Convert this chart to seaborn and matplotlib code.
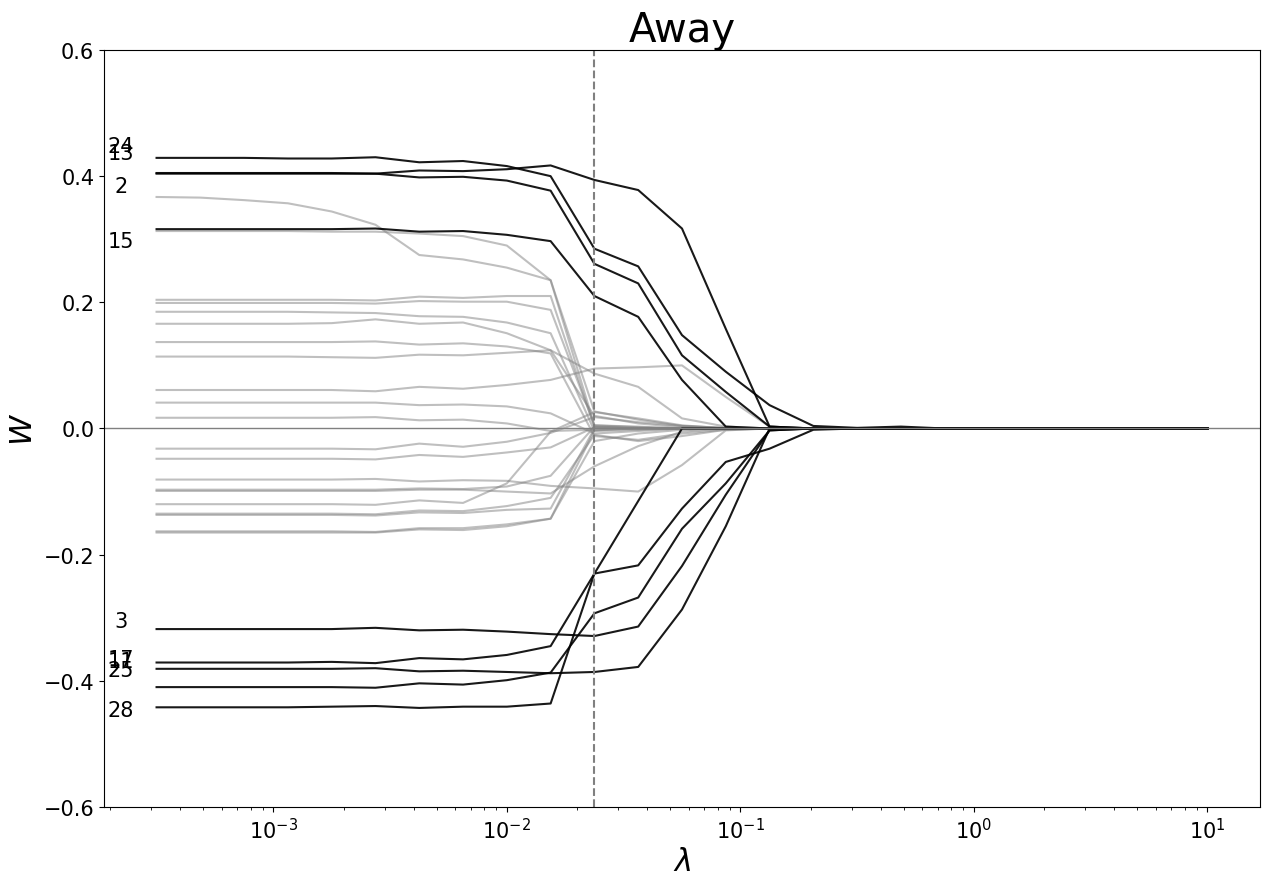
import numpy as np
import pandas as pd
import matplotlib
matplotlib.use("Agg")
import matplotlib.pyplot as plt
import seaborn as sns

# regularisation grid (25 log-spaced lambdas) and chosen lambda index
lambdas = np.logspace(-3.5, 1, 25)
best_idx = 10

# selected features (drawn black)
coef_24 = [0.429, 0.429, 0.429, 0.428, 0.428, 0.430, 0.422, 0.424, 0.416, 0.400, 0.285, 0.257, 0.148,
           0.090, 0.037, 0.004, 0.001, 0.003, 0.0, 0.0, 0.0, 0.0, 0.0, 0.0, 0.0]
coef_13 = [0.405, 0.405, 0.405, 0.405, 0.405, 0.404, 0.409, 0.408, 0.411, 0.417, 0.394, 0.378, 0.317,
           0.158, 0.003, 0.0, 0.0, 0.0, 0.0, 0.0, 0.0, 0.0, 0.0, 0.0, 0.0]
coef_02 = [0.404, 0.404, 0.404, 0.404, 0.404, 0.404, 0.398, 0.399, 0.393, 0.377, 0.261, 0.230, 0.116,
           0.058, 0.003, 0.0, 0.0, 0.0, 0.0, 0.0, 0.0, 0.0, 0.0, 0.0, 0.0]
coef_15 = [0.316, 0.316, 0.316, 0.316, 0.316, 0.317, 0.312, 0.313, 0.307, 0.297, 0.210, 0.177, 0.077,
           0.003, 0.0, 0.0, 0.0, 0.0, 0.0, 0.0, 0.0, 0.0, 0.0, 0.0, 0.0]
coef_03 = [-0.318, -0.318, -0.318, -0.318, -0.318, -0.316, -0.320, -0.319, -0.322, -0.326, -0.329, -0.314,
           -0.218, -0.105, -0.003, 0.0, 0.0, 0.0, 0.0, 0.0, 0.0, 0.0, 0.0, 0.0, 0.0]
coef_17 = [-0.371, -0.371, -0.371, -0.371, -0.370, -0.372, -0.364, -0.366, -0.359, -0.345, -0.230, -0.115,
           0.0, 0.0, 0.0, 0.0, 0.0, 0.0, 0.0, 0.0, 0.0, 0.0, 0.0, 0.0, 0.0]
coef_25 = [-0.381, -0.381, -0.381, -0.381, -0.381, -0.380, -0.385, -0.384, -0.386, -0.388, -0.386, -0.378,
           -0.287, -0.155, 0.0, 0.0, 0.0, 0.0, 0.0, 0.0, 0.0, 0.0, 0.0, 0.0, 0.0]
coef_11 = [-0.410, -0.410, -0.410, -0.410, -0.410, -0.411, -0.404, -0.406, -0.399, -0.387, -0.293, -0.268,
           -0.159, -0.087, -0.003, 0.0, 0.0, 0.0, 0.0, 0.0, 0.0, 0.0, 0.0, 0.0, 0.0]
coef_28 = [-0.442, -0.442, -0.442, -0.442, -0.441, -0.440, -0.443, -0.441, -0.441, -0.436, -0.230, -0.217,
           -0.127, -0.053, -0.032, -0.002, 0.0, 0.0, 0.0, 0.0, 0.0, 0.0, 0.0, 0.0, 0.0]

# remaining features (drawn grey)
coef_00 = [0.367, 0.366, 0.362, 0.357, 0.344, 0.323, 0.275, 0.268, 0.255, 0.235, 0.005, 0.002, 0.0,
           0.0, 0.0, 0.0, 0.0, 0.0, 0.0, 0.0, 0.0, 0.0, 0.0, 0.0, 0.0]
coef_01 = [0.313, 0.313, 0.313, 0.313, 0.312, 0.312, 0.309, 0.305, 0.290, 0.235, 0.027, 0.014, 0.004,
           0.001, 0.0, 0.0, 0.0, 0.0, 0.0, 0.0, 0.0, 0.0, 0.0, 0.0, 0.0]
coef_04 = [0.204, 0.204, 0.204, 0.204, 0.204, 0.203, 0.209, 0.207, 0.210, 0.210, 0.002, 0.0, 0.0,
           0.0, 0.0, 0.0, 0.0, 0.0, 0.0, 0.0, 0.0, 0.0, 0.0, 0.0, 0.0]
coef_05 = [0.199, 0.199, 0.199, 0.199, 0.199, 0.198, 0.202, 0.201, 0.201, 0.188, 0.005, 0.003, 0.0,
           0.0, 0.0, 0.0, 0.0, 0.0, 0.0, 0.0, 0.0, 0.0, 0.0, 0.0, 0.0]
coef_06 = [0.185, 0.185, 0.185, 0.185, 0.184, 0.183, 0.178, 0.177, 0.168, 0.151, -0.004, -0.002, 0.0,
           0.0, 0.0, 0.0, 0.0, 0.0, 0.0, 0.0, 0.0, 0.0, 0.0, 0.0, 0.0]
coef_07 = [0.166, 0.166, 0.166, 0.166, 0.167, 0.173, 0.166, 0.168, 0.151, 0.124, 0.020, 0.008, 0.002,
           0.0, 0.0, 0.0, 0.0, 0.0, 0.0, 0.0, 0.0, 0.0, 0.0, 0.0, 0.0]
coef_08 = [0.137, 0.137, 0.137, 0.137, 0.137, 0.138, 0.133, 0.135, 0.130, 0.119, -0.012, -0.018, -0.008,
           -0.002, 0.0, 0.0, 0.0, 0.0, 0.0, 0.0, 0.0, 0.0, 0.0, 0.0, 0.0]
coef_09 = [0.114, 0.114, 0.114, 0.114, 0.113, 0.112, 0.117, 0.116, 0.120, 0.124, 0.087, 0.066, 0.016,
           0.003, 0.0, 0.0, 0.0, 0.0, 0.0, 0.0, 0.0, 0.0, 0.0, 0.0, 0.0]
coef_10 = [0.061, 0.061, 0.061, 0.061, 0.061, 0.059, 0.066, 0.063, 0.069, 0.077, 0.095, 0.097, 0.100,
           0.050, 0.003, 0.0, 0.0, 0.0, 0.0, 0.0, 0.0, 0.0, 0.0, 0.0, 0.0]
coef_12 = [0.041, 0.041, 0.041, 0.041, 0.041, 0.041, 0.037, 0.038, 0.035, 0.024, -0.008, -0.004, 0.0,
           0.0, 0.0, 0.0, 0.0, 0.0, 0.0, 0.0, 0.0, 0.0, 0.0, 0.0, 0.0]
coef_14 = [0.017, 0.017, 0.017, 0.017, 0.017, 0.018, 0.013, 0.014, 0.008, -0.004, -0.002, 0.0, 0.0,
           0.0, 0.0, 0.0, 0.0, 0.0, 0.0, 0.0, 0.0, 0.0, 0.0, 0.0, 0.0]
coef_16 = [-0.032, -0.032, -0.032, -0.032, -0.032, -0.033, -0.024, -0.029, -0.021, -0.007, 0.018, 0.010, 0.004,
           0.001, 0.0, 0.0, 0.0, 0.0, 0.0, 0.0, 0.0, 0.0, 0.0, 0.0, 0.0]
coef_18 = [-0.048, -0.048, -0.048, -0.048, -0.048, -0.049, -0.042, -0.045, -0.038, -0.030, 0.002, 0.0, 0.0,
           0.0, 0.0, 0.0, 0.0, 0.0, 0.0, 0.0, 0.0, 0.0, 0.0, 0.0, 0.0]
coef_19 = [-0.081, -0.081, -0.081, -0.081, -0.081, -0.080, -0.084, -0.082, -0.083, -0.091, -0.095, -0.100, -0.058,
           -0.003, 0.0, 0.0, 0.0, 0.0, 0.0, 0.0, 0.0, 0.0, 0.0, 0.0, 0.0]
coef_20 = [-0.097, -0.097, -0.097, -0.097, -0.097, -0.097, -0.095, -0.096, -0.092, -0.075, 0.003, 0.001, 0.0,
           0.0, 0.0, 0.0, 0.0, 0.0, 0.0, 0.0, 0.0, 0.0, 0.0, 0.0, 0.0]
coef_21 = [-0.099, -0.099, -0.099, -0.099, -0.099, -0.099, -0.097, -0.097, -0.100, -0.103, -0.060, -0.028, -0.005,
           0.0, 0.0, 0.0, 0.0, 0.0, 0.0, 0.0, 0.0, 0.0, 0.0, 0.0, 0.0]
coef_22 = [-0.120, -0.120, -0.120, -0.120, -0.120, -0.121, -0.114, -0.118, -0.087, -0.005, 0.026, 0.016, 0.005,
           0.0, 0.0, 0.0, 0.0, 0.0, 0.0, 0.0, 0.0, 0.0, 0.0, 0.0, 0.0]
coef_23 = [-0.135, -0.135, -0.135, -0.135, -0.135, -0.136, -0.130, -0.131, -0.123, -0.110, -0.010, -0.020, -0.012,
           -0.002, 0.0, 0.0, 0.0, 0.0, 0.0, 0.0, 0.0, 0.0, 0.0, 0.0, 0.0]
coef_26 = [-0.137, -0.137, -0.137, -0.137, -0.137, -0.138, -0.133, -0.134, -0.129, -0.127, 0.0, 0.0, 0.0,
           0.0, 0.0, 0.0, 0.0, 0.0, 0.0, 0.0, 0.0, 0.0, 0.0, 0.0, 0.0]
coef_27 = [-0.163, -0.163, -0.163, -0.163, -0.163, -0.164, -0.158, -0.158, -0.152, -0.143, -0.003, 0.0, 0.0,
           0.0, 0.0, 0.0, 0.0, 0.0, 0.0, 0.0, 0.0, 0.0, 0.0, 0.0, 0.0]
coef_29 = [-0.165, -0.165, -0.165, -0.165, -0.165, -0.165, -0.160, -0.161, -0.155, -0.143, -0.020, -0.008, -0.002,
           0.0, 0.0, 0.0, 0.0, 0.0, 0.0, 0.0, 0.0, 0.0, 0.0, 0.0, 0.0]

selected = [2, 3, 11, 13, 15, 17, 24, 25, 28]

# feature-number labels at the left edge
label_names = ["24", "13", "2", "15", "3", "17", "11", "25", "28"]
label_y = [0.448, 0.437, 0.384, 0.297, -0.305, -0.365, -0.368, -0.383, -0.446]
label_x = 2.22e-4

coefs = {
    0: coef_00, 1: coef_01, 2: coef_02, 3: coef_03, 4: coef_04, 5: coef_05,
    6: coef_06, 7: coef_07, 8: coef_08, 9: coef_09, 10: coef_10, 11: coef_11,
    12: coef_12, 13: coef_13, 14: coef_14, 15: coef_15, 16: coef_16, 17: coef_17,
    18: coef_18, 19: coef_19, 20: coef_20, 21: coef_21, 22: coef_22, 23: coef_23,
    24: coef_24, 25: coef_25, 26: coef_26, 27: coef_27, 28: coef_28, 29: coef_29,
}

rows = []
for feat, vals in coefs.items():
    for lam, w in zip(lambdas, vals):
        rows.append({"lambda": lam, "w": w, "feature": feat, "selected": feat in selected})
df = pd.DataFrame(rows)

fig, ax = plt.subplots(figsize=(12.7, 8.87), dpi=100)
fig.subplots_adjust(left=0.0819, right=0.9921, bottom=0.0891, top=0.9425)

sns.lineplot(data=df[~df["selected"]], x="lambda", y="w", units="feature", estimator=None,
             color="gray", alpha=0.5, lw=1.5, ax=ax)
sns.lineplot(data=df[df["selected"]], x="lambda", y="w", units="feature", estimator=None,
             color="k", alpha=0.9, lw=1.5, ax=ax)

ax.set_xscale("log")
ax.axhline(0, color="gray", lw=1)
ax.axvline(lambdas[best_idx], color="gray", ls="--", lw=1.5)

for name, y in zip(label_names, label_y):
    ax.text(label_x, y, name, ha="center", va="center", fontsize=15)

ax.set_ylim(-0.6, 0.6)
ax.set_title("Away", fontsize=29)
ax.set_xlabel(r"$\lambda$", fontsize=22)
ax.set_ylabel(r"$W$", fontsize=22)
ax.tick_params(labelsize=15)

plt.savefig("out.png", dpi=100)
